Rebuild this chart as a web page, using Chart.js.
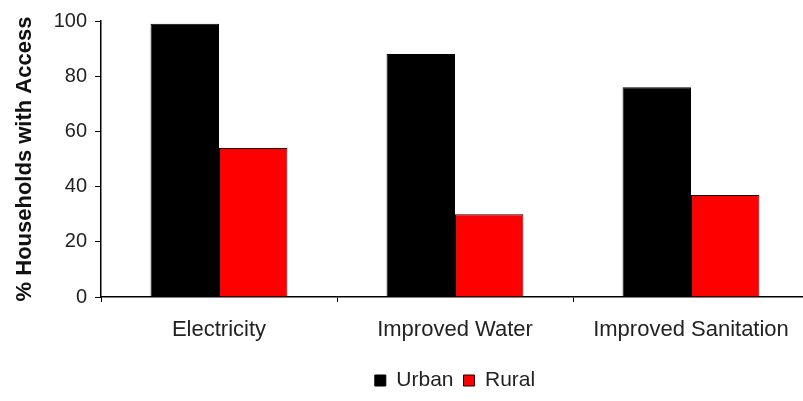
<!DOCTYPE html>
<html>
<head>
<meta charset="utf-8">
<script src="https://cdn.jsdelivr.net/npm/chart.js@4/dist/chart.umd.min.js"></script>
<style>
  html, body { margin: 0; padding: 0; background: #fff; overflow: hidden; }
  #wrap { width: 809px; height: 401px; }
</style>
</head>
<body>
<div id="wrap"><canvas id="chart" width="809" height="401"></canvas></div>
<script>
// Household access to basic services, urban vs rural (%)
const categories = ['Electricity', 'Improved Water', 'Improved Sanitation'];
const urbanValues = [99, 88, 76];
const ruralValues = [54, 30, 37];
const yTicks = [0, 20, 40, 60, 80, 100];

const FONT = "'Liberation Sans', Arial, sans-serif";
const TEXT = '#222';

new Chart(document.getElementById('chart'), {
  type: 'bar',
  data: {
    labels: categories,
    datasets: [
      {
        label: 'Urban',
        data: urbanValues,
        backgroundColor: '#000000',
        borderColor: '#000000',
        borderWidth: 1,
        categoryPercentage: 0.58,
        barPercentage: 1
      },
      {
        label: 'Rural',
        data: ruralValues,
        backgroundColor: '#ff0000',
        borderColor: '#1a0000',
        borderWidth: 1,
        categoryPercentage: 0.58,
        barPercentage: 1
      }
    ]
  },
  options: {
    responsive: false,
    animation: false,
    layout: { padding: { left: 0, right: 0, top: 21, bottom: 0 } },
    plugins: {
      tooltip: { enabled: false },
      legend: {
        position: 'bottom',
        fullSize: false,
        labels: {
          boxWidth: 11,
          boxHeight: 11,
          padding: 10,
          color: TEXT,
          font: { family: FONT, size: 21 }
        }
      }
    },
    scales: {
      x: {
        offset: true,
        grid: {
          display: true,
          drawOnChartArea: false,
          drawTicks: true,
          tickLength: 5,
          color: '#000',
          offset: true
        },
        border: { display: true, color: '#000', width: 1.5 },
        ticks: {
          color: TEXT,
          padding: 15,
          maxRotation: 0,
          font: { family: FONT, size: 22 }
        },
        afterFit: (scale) => { scale.height = 63; }
      },
      y: {
        min: 0,
        max: 100,
        afterBuildTicks: (scale) => { scale.ticks = yTicks.map(v => ({ value: v })); },
        grid: {
          display: true,
          drawOnChartArea: false,
          drawTicks: true,
          tickLength: 6,
          color: '#000'
        },
        border: { display: true, color: '#000', width: 1.5 },
        ticks: {
          color: TEXT,
          padding: 8,
          font: { family: FONT, size: 20 }
        },
        title: {
          display: true,
          text: '% Households with Access',
          color: '#111',
          padding: { top: 12, bottom: 0 },
          font: { family: FONT, size: 22, weight: 'bold' }
        },
        afterFit: (scale) => { scale.width = 101; }
      }
    }
  }
});
</script>
</body>
</html>
